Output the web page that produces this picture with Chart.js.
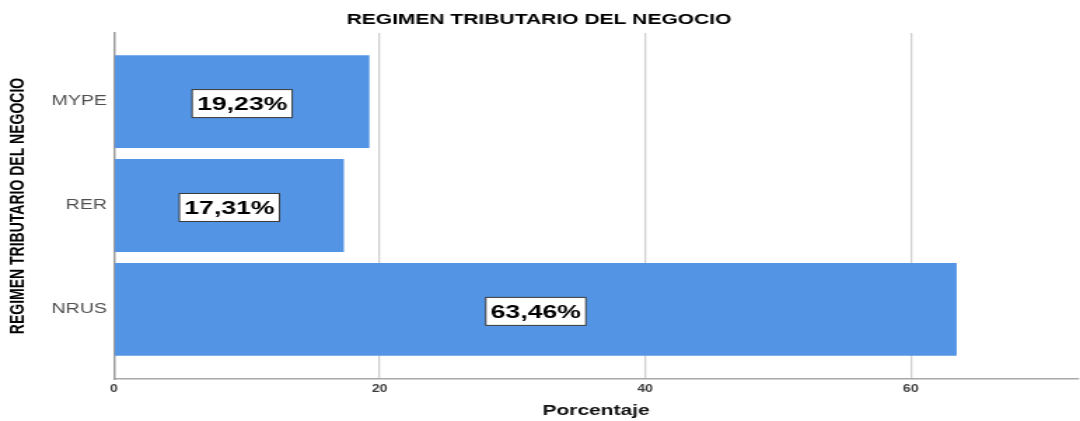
<!DOCTYPE html>
<html>
<head>
<meta charset="utf-8">
<script src="https://cdn.jsdelivr.net/npm/chart.js@4.4.1/dist/chart.umd.min.js"></script>
<style>
  html, body { margin: 0; padding: 0; background: #ffffff; }
  /* the source image is stretched sideways ~1.4x, so draw narrow and widen with CSS */
  #regimenChart { display: block; width: 1080px !important; height: 421px !important; }
</style>
</head>
<body>
<canvas id="regimenChart" width="771" height="421"></canvas>
<script>
// Chart data
const categories = ['MYPE', 'RER', 'NRUS'];
const percentages = [19.23, 17.31, 63.46];
const xTickValues = [0, 20, 40, 60];

const BAR_BLUE = '#5394e4';

// white boxed value labels centred on each bar
const boxedValueLabels = {
    id: 'boxedValueLabels',
    afterDatasetsDraw(chart) {
        const ctx = chart.ctx;
        const meta = chart.getDatasetMeta(0);
        ctx.save();
        ctx.font = 'bold 19px "Liberation Sans", Arial, sans-serif';
        ctx.textAlign = 'center';
        ctx.textBaseline = 'middle';
        meta.data.forEach((bar, i) => {
            const text = percentages[i].toFixed(2).replace('.', ',') + '%';
            const cx = (bar.x + bar.base) / 2;
            const cy = bar.y + 2;
            const w = ctx.measureText(text).width + 7;
            const h = 28;
            ctx.fillStyle = '#ffffff';
            ctx.fillRect(cx - w / 2, cy - h / 2, w, h);
            ctx.strokeStyle = '#3a3a3a';
            ctx.lineWidth = 1;
            ctx.strokeRect(cx - w / 2, cy - h / 2, w, h);
            ctx.fillStyle = '#000000';
            ctx.fillText(text, cx, cy + 1);
        });
        ctx.restore();
    }
};

new Chart(document.getElementById('regimenChart'), {
    type: 'bar',
    data: {
        datasets: [{
            data: percentages.map((v, i) => ({ x: v, y: i })),
            backgroundColor: BAR_BLUE,
            borderWidth: 0,
            categoryPercentage: 1,
            barPercentage: 0.894
        }]
    },
    options: {
        indexAxis: 'y',
        responsive: false,
        animation: false,
        devicePixelRatio: 1,
        layout: { padding: { left: 0, right: 1.4, top: 0, bottom: 0 } },
        plugins: {
            legend: { display: false },
            tooltip: { enabled: false },
            title: {
                display: true,
                text: 'REGIMEN TRIBUTARIO DEL NEGOCIO',
                color: '#000000',
                font: { family: '"Liberation Sans", Arial, sans-serif', size: 15, weight: 'bold' },
                padding: { top: 11, bottom: 4 }
            }
        },
        scales: {
            x: {
                type: 'linear',
                min: 0,
                max: 72.6,
                afterBuildTicks: (axis) => {
                    axis.ticks = xTickValues.map(v => ({ value: v }));
                },
                afterFit: (axis) => { axis.height = 42; },
                grid: { color: '#cfcfcf', lineWidth: 1.3, drawTicks: false },
                border: { display: true, color: '#a8a8a8', width: 1.5 },
                ticks: {
                    padding: 4,
                    color: '#3c3c3c',
                    font: { family: '"Liberation Sans", Arial, sans-serif', size: 10, weight: 'bold' }
                },
                title: {
                    display: true,
                    text: 'Porcentaje',
                    color: '#111111',
                    font: { family: '"Liberation Sans", Arial, sans-serif', size: 15, weight: 'bold' },
                    padding: { top: 2, bottom: 1 }
                }
            },
            y: {
                type: 'linear',
                reverse: true,
                offset: false,
                min: -0.66,
                max: 2.67,
                afterBuildTicks: (axis) => {
                    axis.ticks = categories.map((c, i) => ({ value: i }));
                },
                afterFit: (axis) => { axis.width = 81.4; },
                grid: { display: false, drawTicks: false, offset: false },
                border: { display: true, color: '#9a9a9a', width: 1.4 },
                ticks: {
                    padding: 5,
                    color: '#505050',
                    font: { family: '"Liberation Sans", Arial, sans-serif', size: 14 },
                    callback: (value) => categories[value]
                },
                title: {
                    display: true,
                    text: 'REGIMEN TRIBUTARIO DEL NEGOCIO',
                    color: '#000000',
                    font: { family: '"Liberation Sans", Arial, sans-serif', size: 14, weight: 'bold' },
                    padding: { top: 4.8, bottom: 0 }
                }
            }
        }
    },
    plugins: [boxedValueLabels]
});
</script>
</body>
</html>
